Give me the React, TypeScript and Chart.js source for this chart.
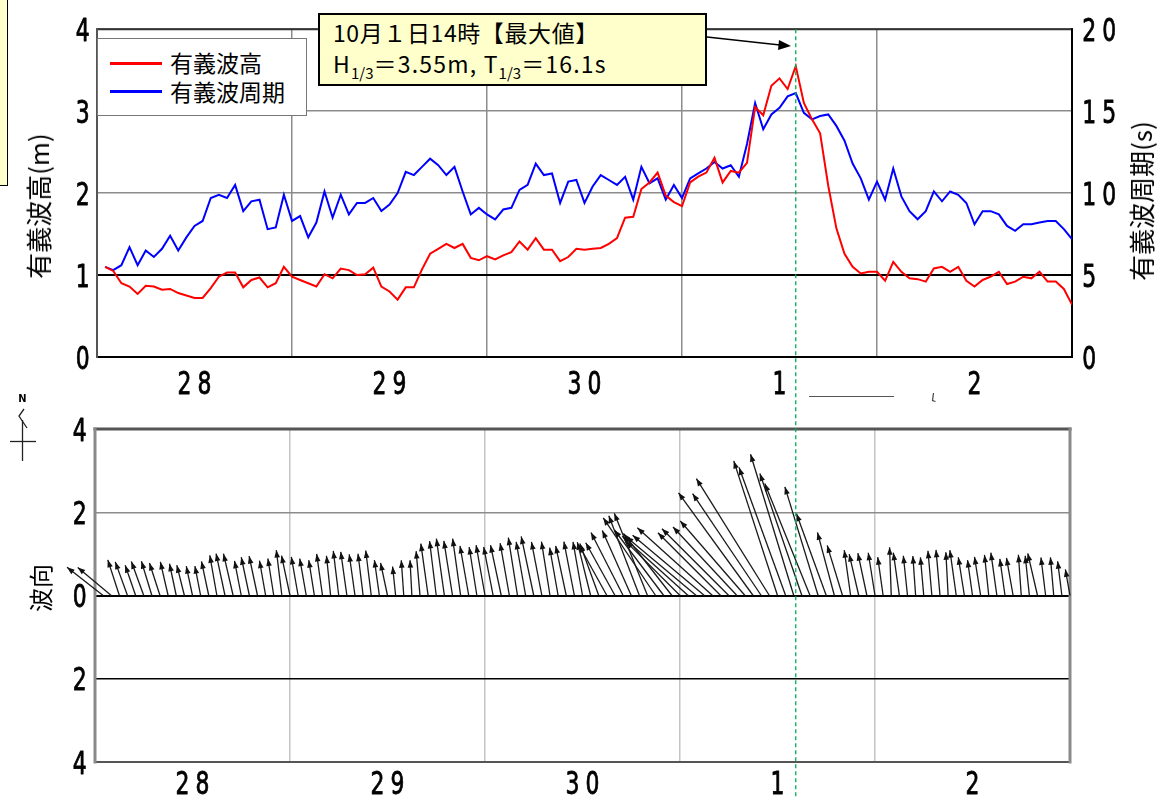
import React, { useEffect, useRef } from 'react';
import { Chart, registerables } from 'chart.js';

Chart.register(...registerables);

// ---- data (hourly, 9/28 01h .. 10/3 00h) ----
const hours: number[] = Array.from({ length: 120 }, (_, i) => i + 1);

const dayLabels = ['28', '29', '30', '1', '2'];

const seriesNames = ['有義波高', '有義波周期'];
const leftTitle = '有義波高(m)';
const rightTitle = '有義波周期(s)';
const dirTitle = '波向';
const peakTitle = '10月１日14時【最大値】';

// significant wave height (m)
const waveHeight = [
  1.10, 1.05, 0.90, 0.86, 0.77, 0.87, 0.86, 0.82, 0.83, 0.78,
  0.75, 0.72, 0.72, 0.84, 0.98, 1.03, 1.03, 0.85, 0.94, 0.97,
  0.85, 0.90, 1.10, 0.98, 0.94, 0.90, 0.86, 1.01, 0.96, 1.08,
  1.06, 1.00, 1.01, 1.09, 0.86, 0.80, 0.70, 0.85, 0.85, 1.07,
  1.26, 1.32, 1.38, 1.33, 1.38, 1.21, 1.18, 1.23, 1.19, 1.24,
  1.28, 1.41, 1.31, 1.45, 1.31, 1.31, 1.17, 1.22, 1.32, 1.31,
  1.32, 1.33, 1.38, 1.45, 1.70, 1.71, 2.05, 2.13, 2.25, 1.97,
  1.89, 1.84, 2.13, 2.20, 2.25, 2.43, 2.13, 2.27, 2.25, 2.37,
  3.05, 2.95, 3.31, 3.40, 3.27, 3.55, 3.10, 2.90, 2.73, 2.09,
  1.57, 1.26, 1.10, 1.02, 1.04, 1.04, 0.93, 1.16, 1.04, 0.96,
  0.95, 0.92, 1.08, 1.10, 1.04, 1.10, 0.93, 0.86, 0.94, 0.98,
  1.04, 0.89, 0.92, 0.98, 0.96, 1.04, 0.92, 0.92, 0.83, 0.64,
];

// significant wave period (s)
const wavePeriod = [
  5.5, 5.3, 5.6, 6.7, 5.6, 6.5, 6.1, 6.6, 7.4, 6.5,
  7.3, 8.0, 8.3, 9.7, 9.9, 9.7, 10.5, 8.9, 9.5, 9.6,
  7.8, 7.9, 9.9, 8.3, 8.6, 7.3, 8.2, 10.1, 8.5, 9.9,
  8.7, 9.4, 9.4, 9.7, 8.9, 9.3, 10.0, 11.3, 11.1, 11.6,
  12.1, 11.7, 11.1, 11.6, 10.1, 8.7, 9.1, 8.7, 8.4, 9.0,
  9.1, 10.2, 10.5, 11.8, 11.1, 11.2, 9.4, 10.7, 10.8, 9.4,
  10.4, 11.1, 10.8, 10.5, 11.0, 9.6, 11.6, 10.6, 10.9, 9.6,
  10.5, 9.7, 10.9, 11.2, 11.5, 11.9, 11.5, 11.7, 11.0, 13.0,
  15.5, 13.9, 14.8, 15.2, 15.9, 16.1, 14.9, 14.5, 14.7, 14.8,
  14.1, 13.2, 11.8, 10.9, 9.6, 10.7, 9.6, 11.5, 9.8, 8.9,
  8.4, 8.9, 10.1, 9.5, 10.1, 9.9, 9.4, 8.1, 8.9, 8.9,
  8.7, 8.0, 7.7, 8.1, 8.1, 8.2, 8.3, 8.3, 7.8, 7.2,
];

// wave direction (degrees, direction waves come from, clockwise from north)
const waveDir = [
  128, 130, 162, 160, 161, 160, 163, 162, 167, 168,
  166, 168, 169, 168, 170, 168, 167, 169, 168, 168,
  170, 171, 173, 168, 170, 170, 171, 172, 174, 173,
  172, 172, 173, 173, 172, 168, 174, 176, 177, 175,
  172, 173, 172, 171, 172, 170, 171, 170, 169, 168,
  170, 171, 170, 168, 169, 171, 170, 168, 169, 170,
  166, 160, 151, 151, 153, 156, 159, 158, 146, 143,
  142, 135, 132, 130, 130, 132, 135, 135, 137, 139,
  144, 146, 148, 162, 160, 163, 161, 158, 163, 160,
  165, 163, 172, 167, 168, 171, 172, 178, 172, 174,
  176, 175, 175, 175, 177, 172, 171, 172, 171, 174,
  172, 172, 170, 176, 174, 167, 173, 175, 173, 170,
];

const peakIndex = waveHeight.indexOf(Math.max(...waveHeight));
const peakHour = hours[peakIndex];

const NARROW = "'Liberation Sans Narrow', 'DejaVu Sans Condensed', 'Arial Narrow', sans-serif";
const CJK = "'Noto Sans CJK JP', 'Noto Sans CJK SC', sans-serif";
const TRANSPARENT = 'rgba(0,0,0,0)';

type Side = [string, number];
function drawFrame(ctx: CanvasRenderingContext2D, a: any, s: { l: Side; t: Side; r: Side; b: Side }) {
  const seg = (x1: number, y1: number, x2: number, y2: number, side: Side) => {
    ctx.beginPath();
    ctx.strokeStyle = side[0];
    ctx.lineWidth = side[1];
    ctx.moveTo(x1, y1);
    ctx.lineTo(x2, y2);
    ctx.stroke();
  };
  ctx.save();
  ctx.lineCap = 'square';
  seg(a.left, a.top, a.right, a.top, s.t);
  seg(a.left, a.bottom, a.right, a.bottom, s.b);
  seg(a.left, a.top, a.left, a.bottom, s.l);
  seg(a.right, a.top, a.right, a.bottom, s.r);
  ctx.restore();
}

// narrow, spaced tick text (condensed horizontally)
const TICK_SIZE = 32;
function drawTickText(ctx: CanvasRenderingContext2D, text: string, x: number, yc: number, align: string) {
  const pitch = 20;
  const gw = 12.5;
  const sx = 0.76;
  const n = text.length;
  let c0: number;
  if (align === 'center') c0 = x - ((n - 1) * pitch) / 2;
  else if (align === 'right') c0 = x - gw / 2 - (n - 1) * pitch;
  else c0 = x + gw / 2;
  ctx.save();
  ctx.font = `${TICK_SIZE}px ${NARROW}`;
  ctx.fillStyle = '#000';
  ctx.strokeStyle = '#000';
  ctx.lineWidth = 0.8;
  ctx.lineJoin = 'round';
  ctx.textAlign = 'center';
  ctx.textBaseline = 'alphabetic';
  for (let i = 0; i < n; i++) {
    ctx.save();
    ctx.translate(c0 + i * pitch, yc + 0.365 * TICK_SIZE);
    ctx.scale(sx, 1);
    ctx.fillText(text[i], 0, 0);
    ctx.strokeText(text[i], 0, 0);
    ctx.restore();
  }
  ctx.restore();
}

function drawScaleLabels(chart: any, id: string, place: (scale: any, px: number) => [number, number, string]) {
  const scale = chart.scales[id];
  if (!scale) return;
  scale.ticks.forEach((t: any) => {
    const label = t.label;
    if (label === undefined || label === null || label === '') return;
    const px = scale.getPixelForValue(t.value);
    const [x, y, align] = place(scale, px);
    drawTickText(chart.ctx, String(label), x, y, align);
  });
}

const topDecor = {
  id: 'topDecor',
  beforeDatasetsDraw(chart: any) {
    drawFrame(chart.ctx, chart.chartArea, {
      l: ['#555', 2], t: ['#333', 2], r: ['#000', 2], b: ['#000', 2],
    });
  },
  afterDraw(chart: any) {
    const { ctx, chartArea, scales } = chart;
    drawScaleLabels(chart, 'y', (_s, p) => [chartArea.left - 8, p, 'right']);
    drawScaleLabels(chart, 'y1', (_s, p) => [chartArea.right + 11, p, 'left']);
    drawScaleLabels(chart, 'x', (_s, p) => [p, chartArea.bottom + 25, 'center']);
    const px = scales.x.getPixelForValue(peakHour);
    ctx.save();
    ctx.strokeStyle = '#00b050';
    ctx.lineWidth = 1.3;
    ctx.setLineDash([4, 3]);
    ctx.beginPath();
    ctx.moveTo(px, chartArea.top);
    ctx.lineTo(px, chart.height);
    ctx.stroke();
    ctx.restore();
  },
};

const arrowPlugin = {
  id: 'waveArrows',
  beforeDatasetsDraw(chart: any) {
    drawFrame(chart.ctx, chart.chartArea, {
      l: ['#8a8a8a', 3], t: ['#555', 3], r: ['#8a8a8a', 3], b: ['#555', 2],
    });
  },
  afterDatasetsDraw(chart: any) {
    const { ctx, scales } = chart;
    const x = scales.x;
    const y = scales.y;
    const y0 = y.getPixelForValue(0);
    const unit = y0 - y.getPixelForValue(1);
    ctx.save();
    ctx.strokeStyle = '#1a1a1a';
    ctx.fillStyle = '#111';
    ctx.lineWidth = 1.3;
    hours.forEach((h, i) => {
      const bx = x.getPixelForValue(h);
      const len = waveHeight[i] * unit;
      const toward = ((waveDir[i] + 180) * Math.PI) / 180;
      const ux = Math.sin(toward);
      const uy = -Math.cos(toward);
      const tx = bx + ux * len;
      const ty = y0 + uy * len;
      ctx.beginPath();
      ctx.moveTo(bx, y0);
      ctx.lineTo(tx, ty);
      ctx.stroke();
      const hl = 7.5;
      const hw = 2.8;
      const nx = -uy;
      const ny = ux;
      ctx.beginPath();
      ctx.moveTo(tx, ty);
      ctx.lineTo(tx - ux * hl + nx * hw, ty - uy * hl + ny * hw);
      ctx.lineTo(tx - ux * hl - nx * hw, ty - uy * hl - ny * hw);
      ctx.closePath();
      ctx.fill();
    });
    ctx.restore();
  },
  afterDraw(chart: any) {
    const { chartArea } = chart;
    drawScaleLabels(chart, 'y', (_s, p) => [chartArea.left - 9, p, 'right']);
    drawScaleLabels(chart, 'x', (_s, p) => [p, chartArea.bottom + 20, 'center']);
  },
};

const hiddenTickFont = { family: NARROW, size: 32 };

function dayTick(v: any) {
  const n = Number(v);
  if (n % 24 === 12) return dayLabels[(n - 12) / 24];
  return '';
}

export default function App() {
  const topRef = useRef<HTMLCanvasElement | null>(null);
  const botRef = useRef<HTMLCanvasElement | null>(null);

  useEffect(() => {
    if (!topRef.current || !botRef.current) return;
    const top = new Chart(topRef.current, {
      type: 'line',
      data: {
        datasets: [
          {
            label: seriesNames[0],
            data: hours.map((h, i) => ({ x: h, y: waveHeight[i] })),
            borderColor: '#ff0000',
            borderWidth: 2,
            pointRadius: 0,
            tension: 0,
            yAxisID: 'y',
          },
          {
            label: seriesNames[1],
            data: hours.map((h, i) => ({ x: h, y: wavePeriod[i] })),
            borderColor: '#0000ff',
            borderWidth: 2,
            pointRadius: 0,
            tension: 0,
            yAxisID: 'y1',
          },
        ],
      },
      options: {
        animation: false,
        responsive: false,
        maintainAspectRatio: false,
        events: [],
        layout: { padding: { left: 0, right: 0, top: 24, bottom: 398 } },
        plugins: { legend: { display: false }, tooltip: { enabled: false } },
        scales: {
          x: {
            type: 'linear',
            min: 0,
            max: 120,
            border: { display: false },
            grid: {
              drawTicks: false,
              color: (c: any) => (c.tick && c.tick.value % 24 === 0 ? '#8c8c8c' : TRANSPARENT),
              lineWidth: 1.5,
            },
            ticks: {
              stepSize: 12,
              autoSkip: false,
              maxRotation: 0,
              padding: 5,
              color: TRANSPARENT,
              font: hiddenTickFont,
              callback: dayTick,
            },
            afterFit: (s: any) => {
              s.height = 43;
            },
          },
          y: {
            position: 'left',
            min: 0,
            max: 4,
            border: { display: false },
            grid: {
              drawTicks: false,
              color: (c: any) => (c.tick && c.tick.value === 1 ? '#000' : '#8c8c8c'),
              lineWidth: (c: any) => (c.tick && c.tick.value === 1 ? 2 : 1.5),
            },
            ticks: { stepSize: 1, padding: 4, color: TRANSPARENT, font: hiddenTickFont },
            afterFit: (s: any) => {
              s.width = 97;
            },
          },
          y1: {
            position: 'right',
            min: 0,
            max: 20,
            border: { display: false },
            grid: { drawOnChartArea: false, drawTicks: false },
            ticks: { stepSize: 5, padding: 10, color: TRANSPARENT, font: hiddenTickFont },
            afterFit: (s: any) => {
              s.width = 90;
            },
          },
        },
      } as any,
      plugins: [topDecor],
    });

    const bottom = new Chart(botRef.current, {
      type: 'scatter',
      data: {
        datasets: [
          {
            label: dirTitle,
            data: hours.map((h) => ({ x: h, y: 0 })),
            pointRadius: 0,
            showLine: false,
          },
        ],
      },
      options: {
        animation: false,
        responsive: false,
        maintainAspectRatio: false,
        events: [],
        layout: { padding: { left: 0, right: 92, top: 34, bottom: 0 } },
        plugins: { legend: { display: false }, tooltip: { enabled: false } },
        scales: {
          x: {
            type: 'linear',
            min: 0,
            max: 120,
            border: { display: false },
            grid: {
              drawTicks: false,
              color: (c: any) => (c.tick && c.tick.value % 24 === 0 ? '#c4c4c4' : TRANSPARENT),
              lineWidth: 1.5,
            },
            ticks: {
              stepSize: 12,
              autoSkip: false,
              maxRotation: 0,
              padding: 1,
              color: TRANSPARENT,
              font: hiddenTickFont,
              callback: dayTick,
            },
            afterFit: (s: any) => {
              s.height = 36;
            },
          },
          y: {
            position: 'left',
            min: -4,
            max: 4,
            border: { display: false },
            grid: {
              drawTicks: false,
              color: (c: any) => {
                const v = c.tick ? c.tick.value : 99;
                if (v === 0 || v === -2) return '#000';
                if (v === 2) return '#8c8c8c';
                return TRANSPARENT;
              },
              lineWidth: (c: any) => (c.tick && c.tick.value === 0 ? 2 : 1.5),
            },
            ticks: {
              stepSize: 2,
              padding: 5,
              color: TRANSPARENT,
              font: hiddenTickFont,
              callback: (v: any) => String(Math.abs(Number(v))),
            },
            afterFit: (s: any) => {
              s.width = 95;
            },
          },
        },
      } as any,
      plugins: [arrowPlugin],
    });

    return () => {
      top.destroy();
      bottom.destroy();
    };
  }, []);

  const maxH = waveHeight[peakIndex];
  const maxT = wavePeriod[peakIndex];
  const subStyle: React.CSSProperties = { fontSize: 15, position: 'relative', top: 6, letterSpacing: 0 };

  const rotated = (cx: number, cy: number, size: number): React.CSSProperties => ({
    position: 'absolute',
    left: cx,
    top: cy,
    transform: 'translate(-50%, -50%) rotate(-90deg)',
    whiteSpace: 'nowrap',
    fontFamily: CJK,
    fontSize: size,
    lineHeight: 1,
    color: '#000',
    zIndex: 3,
  });

  return (
    <div style={{ position: 'absolute', left: 0, top: 0, width: 1162, height: 798, overflow: 'hidden', background: '#fff' }}>
      <div style={{ position: 'absolute', left: -50, top: -2, width: 58, height: 188, boxSizing: 'border-box', border: '1px solid #000', background: '#ffffcc' }} />
      <canvas ref={botRef} width={1162} height={403} style={{ position: 'absolute', left: 0, top: 395, zIndex: 1 }} />
      <canvas ref={topRef} width={1162} height={798} style={{ position: 'absolute', left: 0, top: 0, zIndex: 2 }} />

      <div style={rotated(38, 206, 26)}>{leftTitle}</div>
      <div style={rotated(1141, 201, 26)}>{rightTitle}</div>
      <div style={rotated(40, 588, 24)}>{dirTitle}</div>

      {/* legend */}
      <div style={{ position: 'absolute', left: 97, top: 38, width: 210, height: 78, boxSizing: 'border-box', border: '1px solid #777', background: '#fff', zIndex: 3, fontFamily: CJK, fontSize: 23, color: '#000' }}>
        <div style={{ position: 'absolute', left: 12, top: 23, width: 52, height: 3, background: '#ff0000' }} />
        <div style={{ position: 'absolute', left: 72, top: 8, lineHeight: '30px' }}>{seriesNames[0]}</div>
        <div style={{ position: 'absolute', left: 12, top: 51, width: 52, height: 3, background: '#0000ff' }} />
        <div style={{ position: 'absolute', left: 72, top: 37, lineHeight: '30px' }}>{seriesNames[1]}</div>
      </div>

      {/* peak annotation */}
      <div style={{ position: 'absolute', left: 318, top: 13, width: 389, height: 73, boxSizing: 'border-box', border: '2px solid #000', background: '#ffffcc', zIndex: 3, fontFamily: CJK, fontSize: 23, lineHeight: '31px', padding: '2px 0 0 13px', color: '#000', whiteSpace: 'nowrap' }}>
        <div style={{ letterSpacing: 0.6 }}>{peakTitle}</div>
        <div style={{ letterSpacing: 1.2 }}>
          H<span style={subStyle}>1/3</span>＝{maxH.toFixed(2)}m, T<span style={subStyle}>1/3</span>＝{maxT.toFixed(1)}s
        </div>
      </div>

      <svg width={1162} height={798} style={{ position: 'absolute', left: 0, top: 0, zIndex: 4, pointerEvents: 'none' }}>
        <line x1={707} y1={37} x2={780} y2={45} stroke="#000" strokeWidth={1.5} />
        <polygon points="791,46 779,40 778,50" fill="#000" />
        <line x1={809} y1={396.5} x2={894} y2={396.5} stroke="#555" strokeWidth={1} />
        <path d="M933.5,393 L932.5,400.5 L935.5,401.5" stroke="#444" strokeWidth={1.2} fill="none" />
        <text x={22.5} y={402} fontSize={11} fontWeight="bold" textAnchor="middle" fontFamily={NARROW}>N</text>
        <polyline points="24,409 19,416 27,428" stroke="#222" strokeWidth={1.3} fill="none" />
        <line x1={22.5} y1={420} x2={22.5} y2={461} stroke="#222" strokeWidth={1.3} />
        <line x1={10} y1={441.5} x2={36} y2={441.5} stroke="#222" strokeWidth={1.3} />
      </svg>
    </div>
  );
}
